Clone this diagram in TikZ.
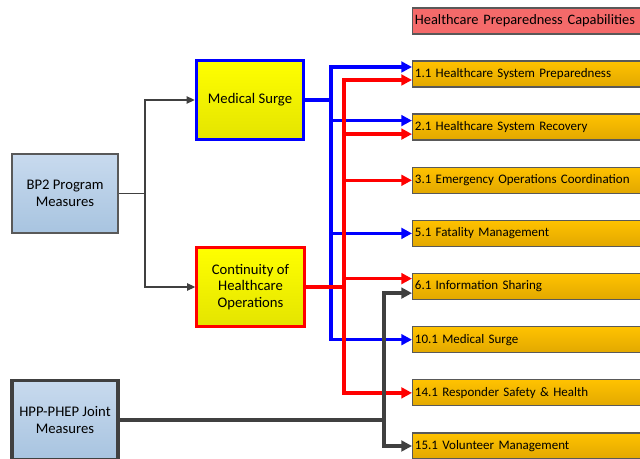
\documentclass[tikz,border=0pt]{standalone}
\usepackage{fontspec}
\setmainfont{Carlito}
\usetikzlibrary{arrows.meta,calc}

\definecolor{edgegray}{RGB}{89,89,89}
\definecolor{darkgray}{RGB}{64,64,64}
\definecolor{measlight}{RGB}{200,218,238}
\definecolor{measdark}{RGB}{168,196,224}
\definecolor{ylight}{RGB}{255,255,0}
\definecolor{ydark}{RGB}{228,228,0}
\definecolor{goldlight}{RGB}{255,194,0}
\definecolor{golddark}{RGB}{226,168,0}
\definecolor{titlered}{RGB}{244,106,106}
\definecolor{linkred}{RGB}{255,0,0}
\definecolor{linkblue}{RGB}{0,0,255}

\begin{document}
\begin{tikzpicture}[x=0.75pt,y=-0.75pt,
  every node/.style={font=\fontsize{11}{12.5}\selectfont},
  measbox/.style={draw=edgegray, line width=1pt, top color=measlight, bottom color=measdark,
    minimum width=79.5pt, minimum height=59.25pt, inner sep=0pt, align=center},
  areabox/.style={line width=2.4pt, top color=ylight, bottom color=ydark,
    minimum width=80.5pt, minimum height=59.25pt, inner sep=0pt, align=center},
  capbox/.style={draw=edgegray, line width=0.9pt, top color=goldlight, bottom color=golddark,
    minimum width=178.5pt, minimum height=19.5pt, text width=175pt, inner xsep=1.5pt,
    align=left, anchor=west, font=\fontsize{9.75}{11}\selectfont},
  bluelink/.style={draw=linkblue, line width=2.6pt},
  redlink/.style={draw=linkred, line width=2.6pt},
  graylink/.style={draw=darkgray, line width=2.6pt},
  thinlink/.style={draw=darkgray, line width=0.8pt},
  bigtip/.style={-{Triangle[length=8pt,width=8pt]}},
  smalltip/.style={-{Triangle[length=6pt,width=5.5pt]}}]

\useasboundingbox (0,0) rectangle (640,459);

% measure sets
\node[measbox] (bp2) at (65,193.5) {BP2 Program\\Measures};
\node[measbox, draw=darkgray, line width=2.4pt] (hpp) at (65,420) {HPP-PHEP Joint\\Measures};

% focus areas
\node[areabox, draw=linkblue] (ms) at (250,100) {Medical Surge};
\node[areabox, draw=linkred] (cont) at (250.5,287) {Continuity of\\Healthcare\\Operations};

% capabilities
\node[capbox, top color=titlered, bottom color=titlered, font=\fontsize{10.8}{12}\selectfont] (captitle) at (412,21) {Healthcare Preparedness Capabilities};
\node[capbox] (cap1) at (412,74) {1.1 Healthcare System Preparedness};
\node[capbox] (cap2) at (412,127.1) {2.1 Healthcare System Recovery};
\node[capbox] (cap3) at (412,180.3) {3.1 Emergency Operations Coordination};
\node[capbox] (cap5) at (412,233.4) {5.1 Fatality Management};
\node[capbox] (cap6) at (412,286.6) {6.1 Information Sharing};
\node[capbox] (cap10) at (412,339.7) {10.1 Medical Surge};
\node[capbox] (cap14) at (412,392.9) {14.1 Responder Safety \& Health};
\node[capbox] (cap15) at (412,446) {15.1 Volunteer Management};

\coordinate (bpsplit) at (145,193.5);
\coordinate (mssplit) at (331,100);
\coordinate (contsplit) at (344,287);
\coordinate (hppsplit) at (384,420);

% BP2 to focus areas
\draw[thinlink] (bp2.east) -- (bpsplit);
\draw[thinlink, smalltip] (bpsplit) |- (ms.west);
\draw[thinlink, smalltip] (bpsplit) |- (cont.west);

% medical surge
\draw[bluelink] (ms.east) -- (mssplit);
\draw[bluelink, bigtip] (mssplit) |- ($(cap1.west)+(0,-7)$);
\draw[bluelink, bigtip] (mssplit) |- ($(cap2.west)+(0,-6.5)$);
\draw[bluelink, bigtip] (mssplit) |- (cap5.west);
\draw[bluelink, bigtip] (mssplit) |- (cap10.west);

% continuity of operations
\draw[redlink] (cont.east) -- (contsplit);
\draw[redlink, bigtip] (contsplit) |- ($(cap1.west)+(0,6)$);
\draw[redlink, bigtip] (contsplit) |- ($(cap2.west)+(0,7)$);
\draw[redlink, bigtip] (contsplit) |- (cap3.west);
\draw[redlink, bigtip] (contsplit) |- ($(cap6.west)+(0,-8)$);
\draw[redlink, bigtip] (contsplit) |- (cap14.west);

% joint measures
\draw[graylink] (hpp.east) -- (hppsplit);
\draw[graylink, bigtip] (hppsplit) |- ($(cap6.west)+(0,6.5)$);
\draw[graylink, bigtip] (hppsplit) |- (cap15.west);

\end{tikzpicture}
\end{document}
